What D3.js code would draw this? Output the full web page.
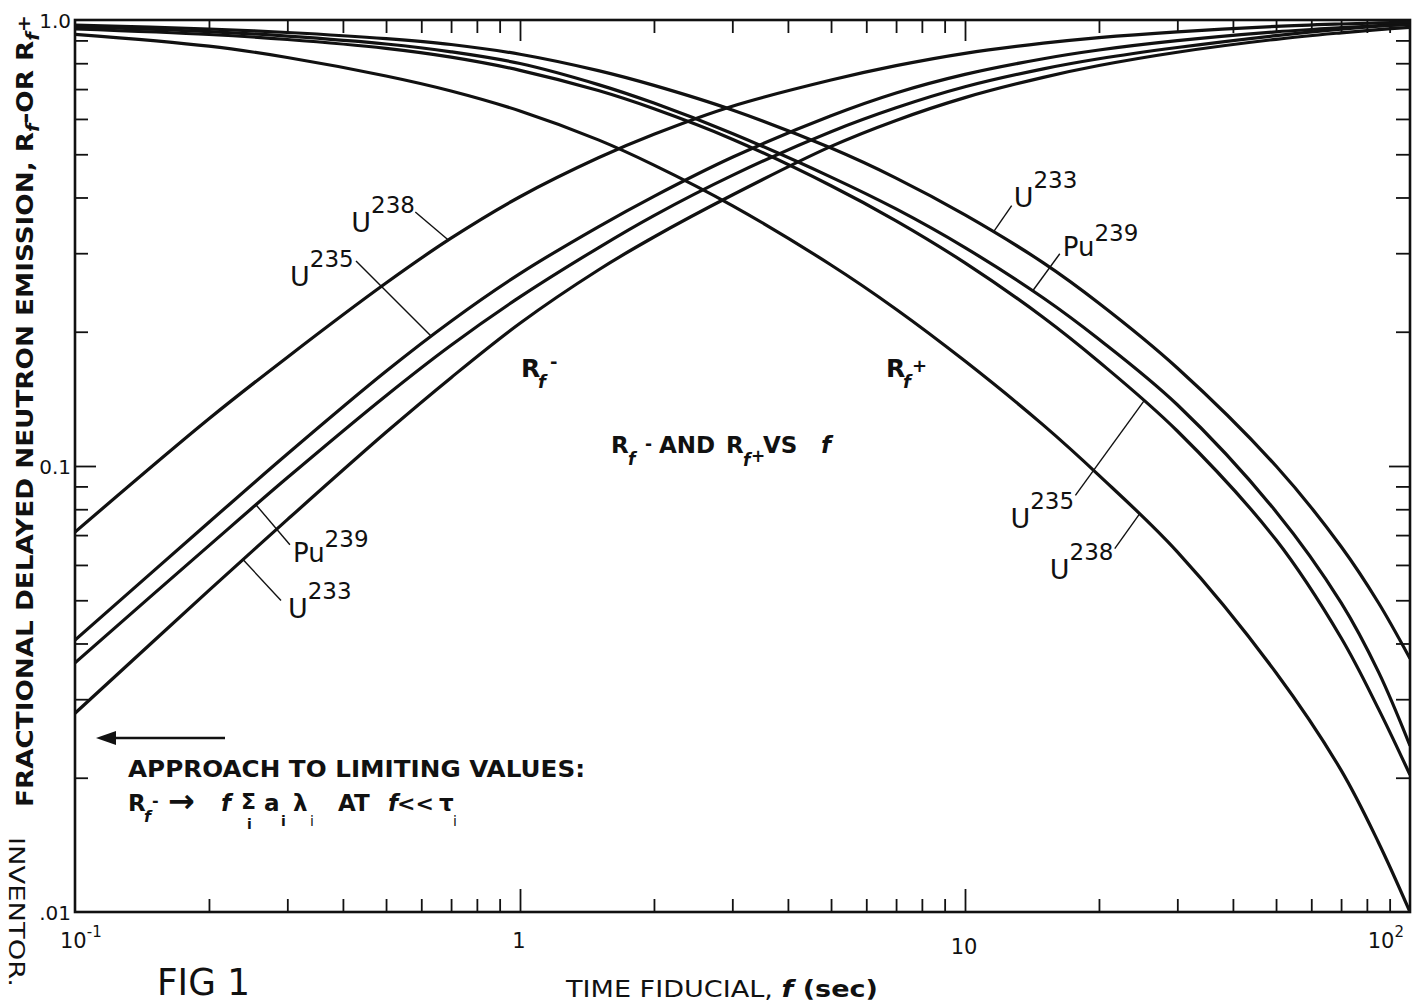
<!DOCTYPE html>
<html>
<head>
<meta charset="utf-8">
<script src="https://cdn.jsdelivr.net/npm/d3@7/dist/d3.min.js"></script>
<style>
html,body{margin:0;padding:0;background:#ffffff;}
svg{display:block;}
text{font-family:"DejaVu Sans","Liberation Sans",sans-serif;fill:#111;}
</style>
</head>
<body>
<svg id="chart" width="1414" height="1008"></svg>
<script>
// ---- data ----
const fValues = [0.1,0.2,0.3,0.5,0.7,1,1.5,2,3,5,7,10,15,20,30,50,70,85,100];

// R_f- (rising curves)
const u238Minus  = [0.0711,0.1276,0.1754,0.2572,0.3242,0.4015,0.4909,0.5543,0.6408,0.7335,0.7900,0.8420,0.8871,0.9131,0.9409,0.9675,0.9796,0.9851,0.9892];
const u235Minus  = [0.0407,0.0748,0.1064,0.1631,0.2112,0.2700,0.3438,0.4024,0.4923,0.6100,0.6861,0.7552,0.8188,0.8564,0.8987,0.9409,0.9615,0.9710,0.9770];
const pu239Minus = [0.0362,0.0663,0.0941,0.1438,0.1866,0.2394,0.3085,0.3643,0.4483,0.5617,0.6355,0.7083,0.7770,0.8185,0.8675,0.9226,0.9541,0.9689,0.9786];
const u233Minus  = [0.0279,0.0526,0.0758,0.1190,0.1578,0.2090,0.2751,0.3262,0.4051,0.5207,0.5955,0.6699,0.7437,0.7906,0.8468,0.9052,0.9361,0.9516,0.9630];

// R_f+ (falling curves)
const u238Plus  = [0.9289,0.8739,0.8240,0.7489,0.6931,0.6251,0.5385,0.4728,0.3836,0.2823,0.2247,0.1719,0.1235,0.0953,0.0642,0.0344,0.0208,0.0143,0.0100];
const u235Plus  = [0.9546,0.9279,0.9042,0.8636,0.8253,0.7712,0.6946,0.6323,0.5405,0.4250,0.3546,0.2854,0.2153,0.1713,0.1198,0.0683,0.0412,0.0285,0.0203];
const pu239Plus = [0.9645,0.9419,0.9203,0.8835,0.8486,0.7988,0.7164,0.6511,0.5566,0.4444,0.3770,0.3088,0.2381,0.1924,0.1372,0.0790,0.0494,0.0345,0.0236];
const u233Plus  = [0.9745,0.9546,0.9375,0.9085,0.8813,0.8381,0.7700,0.7135,0.6284,0.5162,0.4421,0.3656,0.2854,0.2317,0.1659,0.1000,0.0660,0.0493,0.0370];

const isotopes = ["U233","U235","Pu239","U238"];
const minusValues = {U233:u233Minus, U235:u235Minus, Pu239:pu239Minus, U238:u238Minus};
const plusValues  = {U233:u233Plus,  U235:u235Plus,  Pu239:pu239Plus,  U238:u238Plus};

// ticks
const xMinorTicks = [0.2,0.3,0.4,0.5,0.6,0.7,0.8,0.9,2,3,4,5,6,7,8,9,20,30,40,50,60,70,80,90];
const xMajorTicks = [1,10];
const yMinorTicks = [0.02,0.03,0.04,0.05,0.06,0.07,0.08,0.09,0.2,0.3,0.4,0.5,0.6,0.7,0.8,0.9];
const yMajorTicks = [0.1];
const xTickLabels = [{v:0.1, base:"10", sup:"-1"},{v:1, base:"1", sup:""},{v:10, base:"10", sup:""},{v:100, base:"10", sup:"2"}];
const yTickLabels = [{v:1, t:"1.0"},{v:0.1, t:"0.1"},{v:0.01, t:".01"}];

// ---- drawing ----
const svg = d3.select("#chart");
const L = 75, R = 1410, T = 20, B = 912;
const x = d3.scaleLog().domain([0.1,100]).range([L,R]);
const y = d3.scaleLog().domain([0.01,1]).range([B,T]);
const ink = "#111";

svg.append("rect").attr("width",1414).attr("height",1008).attr("fill","#fff");

svg.append("defs").append("clipPath").attr("id","plotclip")
  .append("rect").attr("x",L).attr("y",T).attr("width",R-L).attr("height",B-T);

function axisGroup(gen, tr, vals, size){
  const g = svg.append("g").attr("transform",tr)
    .call(gen.tickValues(vals).tickSizeInner(size).tickSizeOuter(0).tickFormat(()=>""));
  g.select(".domain").remove();
  g.selectAll(".tick text").remove();
  g.selectAll(".tick line").attr("stroke",ink).attr("stroke-width",1.8);
  return g;
}
axisGroup(d3.axisBottom(x), `translate(0,${B})`, xMinorTicks, -13);
axisGroup(d3.axisBottom(x), `translate(0,${B})`, xMajorTicks, -23);
axisGroup(d3.axisTop(x), `translate(0,${T})`, xMinorTicks, -13);
axisGroup(d3.axisTop(x), `translate(0,${T})`, xMajorTicks, -21);
axisGroup(d3.axisLeft(y), `translate(${L},0)`, yMinorTicks, -13);
axisGroup(d3.axisLeft(y), `translate(${L},0)`, yMajorTicks, -21);
axisGroup(d3.axisRight(y), `translate(${R},0)`, yMinorTicks, -14);
axisGroup(d3.axisRight(y), `translate(${R},0)`, yMajorTicks, -21);

// frame
svg.append("rect").attr("x",L).attr("y",T).attr("width",R-L).attr("height",B-T)
  .attr("fill","none").attr("stroke",ink).attr("stroke-width",2.6);

// curves
const line = d3.line().x(d=>x(d[0])).y(d=>y(d[1])).curve(d3.curveCatmullRom.alpha(0.5));
const curveG = svg.append("g").attr("clip-path","url(#plotclip)");
const paths = {};
isotopes.forEach(name=>{
  ["minus","plus"].forEach(kind=>{
    const vals = kind==="minus" ? minusValues[name] : plusValues[name];
    const pts = fValues.map((f,i)=>[f, vals[i]]);
    paths[name+kind] = curveG.append("path").datum(pts)
      .attr("d",line).attr("fill","none").attr("stroke",ink)
      .attr("stroke-width",3.2).attr("stroke-linejoin","round").node();
  });
});

function pointAtX(node, xt){
  let lo=0, hi=node.getTotalLength();
  for(let i=0;i<40;i++){
    const mid=(lo+hi)/2;
    if(node.getPointAtLength(mid).x < xt) lo=mid; else hi=mid;
  }
  return node.getPointAtLength((lo+hi)/2);
}

// curve labels with leader lines
const annotations = [
  {iso:"U238",  kind:"minus", f:0.69,  base:"U",  sup:"238", end:[-33,-28], lab:[-64,20]},
  {iso:"U235",  kind:"minus", f:0.631, base:"U",  sup:"235", end:[-75,-75], lab:[-66,25]},
  {iso:"Pu239", kind:"minus", f:0.255, base:"Pu", sup:"239", end:[34,40],   lab:[3,17]},
  {iso:"U233",  kind:"minus", f:0.2385,base:"U",  sup:"233", end:[38,41],   lab:[7,17]},
  {iso:"U233",  kind:"plus",  f:11.6,  base:"U",  sup:"233", end:[18,-26],  lab:[2,1]},
  {iso:"Pu239", kind:"plus",  f:14.2,  base:"Pu", sup:"239", end:[27,-37],  lab:[3,2]},
  {iso:"U235",  kind:"plus",  f:25.3,  base:"U",  sup:"235", end:[-69,95],  lab:[-65,33]},
  {iso:"U238",  kind:"plus",  f:24.7,  base:"U",  sup:"238", end:[-25,35],  lab:[-65,30]}
];
annotations.forEach(a=>{
  const p = pointAtX(paths[a.iso+a.kind], x(a.f));
  const ex = p.x+a.end[0], ey = p.y+a.end[1];
  svg.append("line").attr("x1",p.x).attr("y1",p.y).attr("x2",ex).attr("y2",ey)
    .attr("stroke",ink).attr("stroke-width",1.4);
  const t = svg.append("text").attr("x",ex+a.lab[0]).attr("y",ey+a.lab[1])
    .attr("font-size",a.base==="U"?27:26).text(a.base);
  t.append("tspan").attr("dy",a.base==="U"?-19:-15).attr("font-size",23).text(a.sup);
});

// tick labels
xTickLabels.forEach(d=>{
  const t = svg.append("text").attr("font-size",21).attr("y", d.v===10?954:948);
  if(d.v===0.1){ t.attr("x",x(d.v)-15).attr("text-anchor","start"); }
  else if(d.v===100){ t.attr("x",x(d.v)-6).attr("text-anchor","end"); }
  else { t.attr("x",x(d.v)-1).attr("text-anchor","middle"); }
  t.text(d.base);
  if(d.sup) t.append("tspan").attr("dy",-11).attr("font-size",15).text(d.sup);
});
yTickLabels.forEach(d=>{
  svg.append("text").attr("x",L-4).attr("y",y(d.v)+8).attr("text-anchor","end")
    .attr("font-size",20).text(d.t);
});

// helper for multi-piece text
function pieces(parent, list){
  const t = parent.append("text");
  list.forEach(p=>{
    const s = t.append("tspan").attr("x",p[1]).attr("y",p[2]).attr("font-size",p[3]).text(p[0]);
    if(p[4]) s.attr("font-weight",p[4]);
    if(p[5]) s.attr("font-style",p[5]);
  });
  return t;
}

// Y axis title
const yt = svg.append("text").attr("transform","translate(33,411) rotate(-90)")
  .attr("text-anchor","middle").attr("font-weight","bold").attr("font-size",23)
  .attr("textLength",792).attr("lengthAdjust","spacingAndGlyphs");
yt.append("tspan").text("FRACTIONAL DELAYED NEUTRON EMISSION, R");
yt.append("tspan").attr("dy",6).attr("font-size",17).attr("font-style","italic").text("f");
yt.append("tspan").attr("dy",-6).text("-OR R");
yt.append("tspan").attr("dy",6).attr("font-size",17).attr("font-style","italic").text("f");
yt.append("tspan").attr("dy",-9).attr("font-size",18).text("+");

// X axis title
const xt = svg.append("text").attr("x",566).attr("y",997).attr("font-size",23)
  .attr("textLength",312).attr("lengthAdjust","spacingAndGlyphs");
xt.append("tspan").text("TIME FIDUCIAL, ");
xt.append("tspan").attr("font-style","italic").attr("font-weight","bold").text("f");
xt.append("tspan").attr("font-weight","bold").text(" (sec)");

// inner labels
pieces(svg,[["R",521,377,25,"bold"],["f",538,388,18,"bold","italic"],["-",550,368,18,"bold"]]);
pieces(svg,[["R",886,377,25,"bold"],["f",903,388,18,"bold","italic"],["+",912,372,18,"bold"]]);
pieces(svg,[["R",611,453,23,"bold"],["f",628,465,17,"bold","italic"],["-",645,450,17,"bold"],
  ["AND",659,453,23,"bold"],["R",726,453,23,"bold"],["f",743,466,17,"bold","italic"],["+",751,462,17,"bold"],
  ["VS",763,453,23,"bold"],["f",821,453,23,"bold","italic"]]);

// approach note
svg.append("text").attr("x",128).attr("y",777).attr("font-size",23).attr("font-weight","bold")
  .attr("textLength",457).attr("lengthAdjust","spacingAndGlyphs").text("APPROACH TO LIMITING VALUES:");
pieces(svg,[["R",128,811,23,"bold"],["f",144,822,16,"bold","italic"],["-",152,806,16,"bold"],
  ["→",168,812,32,"bold"],["f",221,811,23,"bold","italic"],["Σ",241,809,22,"bold"],["i",247,829,14,"bold"],
  ["a",264,811,23,"bold"],["i",281,826,14,"bold"],["λ",293,811,23,"bold"],["i",310,826,14],
  ["AT",338,811,23,"bold"],["f",388,811,23,"bold","italic"],["<<",397,811,22,"bold"],
  ["τ",439,811,23,"bold"],["i",453,826,14]]);

// arrow toward limiting values (left)
svg.append("line").attr("x1",225).attr("y1",738).attr("x2",112).attr("y2",738)
  .attr("stroke",ink).attr("stroke-width",2.4);
svg.append("path").attr("d","M96,738 L116,731 L116,745 Z").attr("fill",ink);

// margin notes
svg.append("text").attr("transform","translate(9,912) rotate(90)").attr("text-anchor","middle")
  .attr("font-family","Liberation Serif").attr("font-size",21)
  .attr("textLength",150).attr("lengthAdjust","spacingAndGlyphs").text("INVENTOR.");
svg.append("text").attr("x",157).attr("y",995).attr("font-size",37)
  .attr("textLength",93).attr("lengthAdjust","spacingAndGlyphs").text("FIG 1");
</script>
</body>
</html>
